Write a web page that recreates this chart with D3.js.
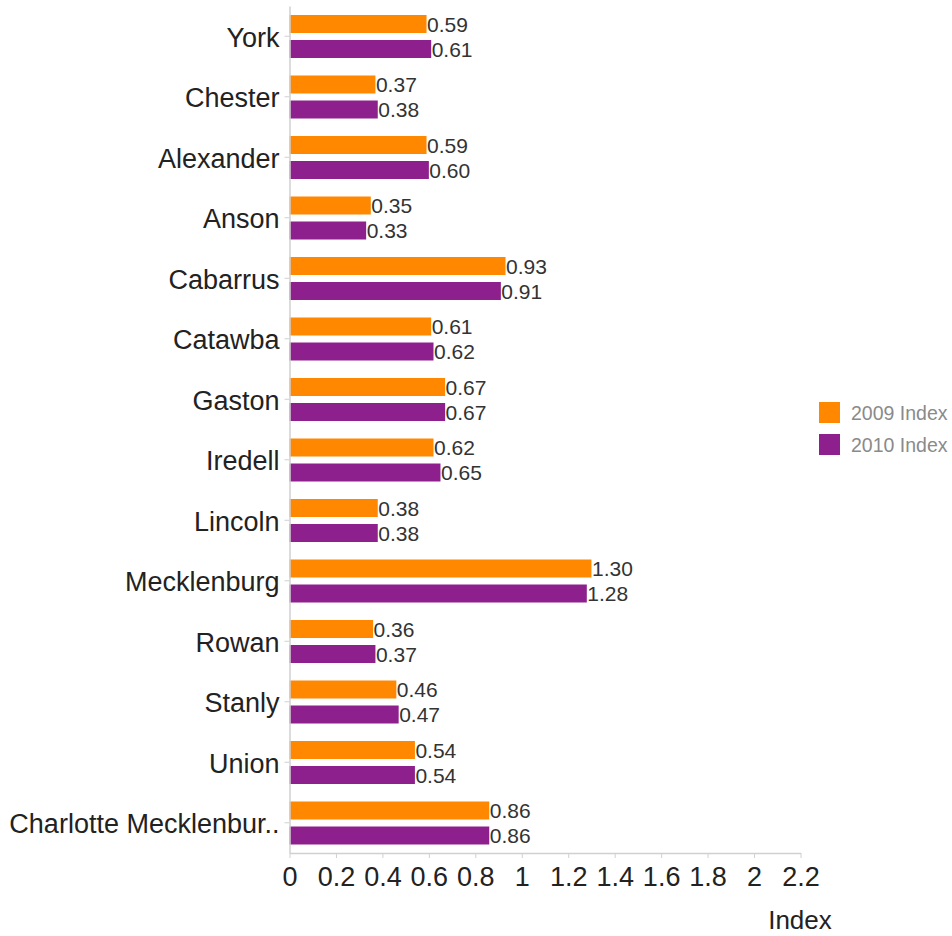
<!DOCTYPE html>
<html>
<head>
<meta charset="utf-8">
<script src="https://cdn.jsdelivr.net/npm/d3@7"></script>
<style>
  html, body { margin: 0; padding: 0; background: #fff; }
  svg { display: block; font-family: "Liberation Sans", Arial, Helvetica, sans-serif; }
</style>
</head>
<body>
<svg id="chart" width="952" height="936"></svg>
<script>
// County names shown on the vertical axis, top to bottom
const counties = ["York", "Chester", "Alexander", "Anson", "Cabarrus", "Catawba", "Gaston",
  "Iredell", "Lincoln", "Mecklenburg", "Rowan", "Stanly", "Union", "Charlotte Mecklenbur.."];
const seriesNames = ["2009 Index", "2010 Index"];
const index2009 = [0.59, 0.37, 0.59, 0.35, 0.93, 0.61, 0.67, 0.62, 0.38, 1.30, 0.36, 0.46, 0.54, 0.86];
const index2010 = [0.61, 0.38, 0.60, 0.33, 0.91, 0.62, 0.67, 0.65, 0.38, 1.28, 0.37, 0.47, 0.54, 0.86];
const xTicks = [0, 0.2, 0.4, 0.6, 0.8, 1, 1.2, 1.4, 1.6, 1.8, 2, 2.2];
const seriesColors = ["#ff8800", "#8e208e"];
const axisTitle = "Index";

const svg = d3.select("#chart");
const plot = { left: 289.5, right: 800.5, top: 6, bottom: 853 };
const fontFamily = "'Liberation Sans', Arial, sans-serif";

const x = d3.scaleLinear().domain([0, 2.2]).range([plot.left, plot.right]);
const y = d3.scaleBand().domain(counties).range([plot.top, plot.bottom]);
const ySub = d3.scaleBand().domain(seriesNames).range([9, 52]).paddingInner(0.28);
const color = d3.scaleOrdinal().domain(seriesNames).range(seriesColors);

const rows = counties.map((c, i) => ({ county: c, values: [index2009[i], index2010[i]] }));

// Bars and value labels
const groups = svg.append("g").selectAll("g").data(rows).join("g")
  .attr("transform", d => `translate(0,${y(d.county)})`);

const cells = groups.selectAll("g").data(d => d.values.map((v, k) => ({ s: seriesNames[k], v })))
  .join("g");

cells.append("rect")
  .attr("x", x(0))
  .attr("y", d => ySub(d.s))
  .attr("width", d => x(d.v) - x(0))
  .attr("height", ySub.bandwidth())
  .attr("fill", d => color(d.s));

cells.append("text")
  .attr("x", d => x(d.v) + 0.5)
  .attr("y", d => ySub(d.s) + ySub.bandwidth() / 2)
  .attr("dy", "0.36em")
  .attr("font-size", 21)
  .attr("fill", "#333")
  .text(d => d.v.toFixed(2));

// Vertical axis with category labels
const yAxis = svg.append("g")
  .attr("transform", `translate(${plot.left},0)`)
  .call(d3.axisLeft(y).tickSize(5).tickSizeOuter(0).tickPadding(5));
yAxis.select(".domain").attr("stroke", "#d0d0d0").attr("stroke-width", 1.5);
yAxis.selectAll(".tick line").attr("stroke", "#d0d0d0");
yAxis.selectAll(".tick text")
  .attr("font-size", 27)
  .attr("dy", "0.38em")
  .attr("fill", "#222")
  .style("font-family", fontFamily);

// Horizontal axis
const xAxis = svg.append("g")
  .attr("transform", `translate(0,${plot.bottom})`)
  .call(d3.axisBottom(x).tickValues(xTicks).tickFormat(d3.format("~g")).tickSize(5).tickSizeOuter(0).tickPadding(9));
xAxis.select(".domain").attr("stroke", "#d0d0d0").attr("stroke-width", 1.5);
xAxis.selectAll(".tick line").attr("stroke", "#d0d0d0");
xAxis.selectAll(".tick text")
  .attr("font-size", 27)
  .attr("fill", "#222")
  .style("font-family", fontFamily);

svg.append("text")
  .attr("x", 800)
  .attr("y", 929)
  .attr("text-anchor", "middle")
  .attr("font-size", 26)
  .attr("fill", "#222")
  .style("font-family", fontFamily)
  .text(axisTitle);

// Legend
const legend = svg.append("g").attr("transform", "translate(819,402)");
const items = legend.selectAll("g").data(seriesNames).join("g")
  .attr("transform", (d, i) => `translate(0,${i * 32})`);
items.append("rect").attr("width", 21).attr("height", 21).attr("fill", d => color(d));
items.append("text")
  .attr("x", 32)
  .attr("y", 10.5)
  .attr("dy", "0.36em")
  .attr("font-size", 19.5)
  .attr("fill", "#8a8a8a")
  .text(d => d);
</script>
</body>
</html>
